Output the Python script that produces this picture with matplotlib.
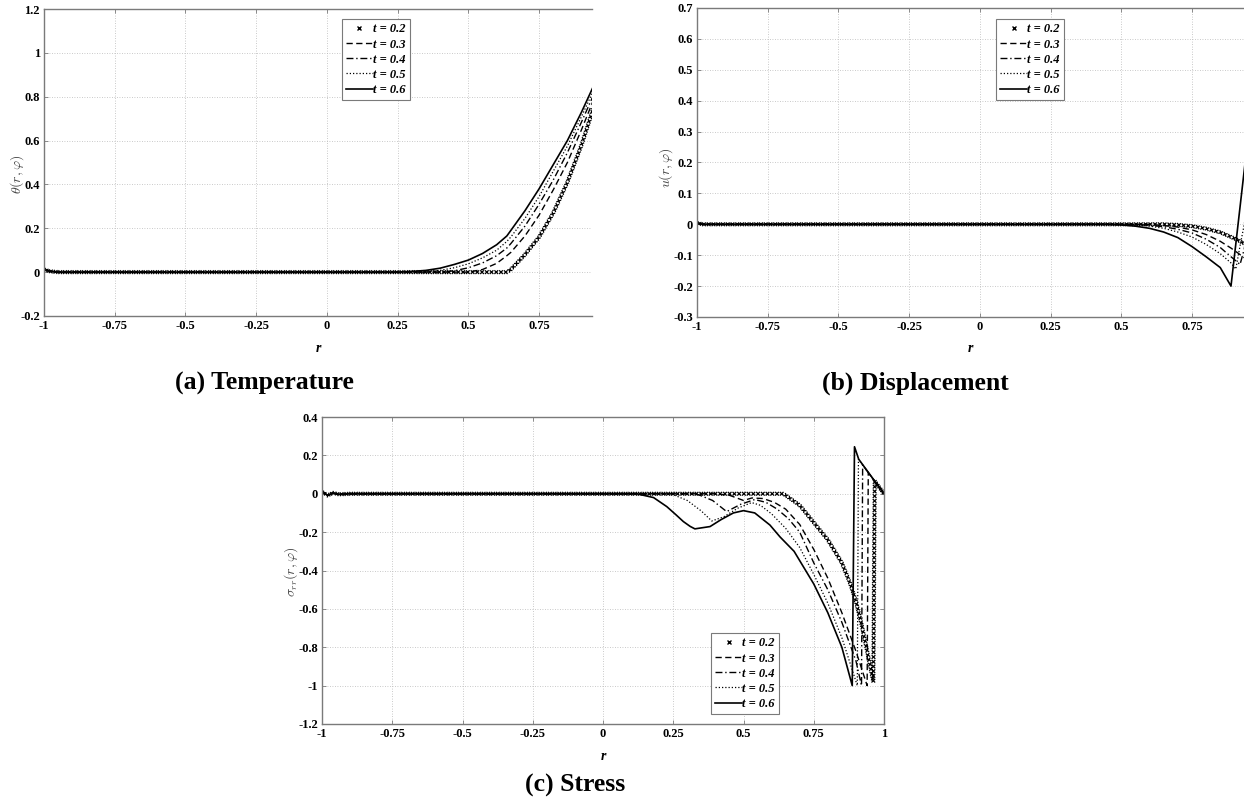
import numpy as np
import matplotlib
matplotlib.use("Agg")
import matplotlib.pyplot as plt
from matplotlib import patheffects as pe
from matplotlib.lines import Line2D

plt.rcParams['font.family'] = ['Liberation Serif', 'DejaVu Serif']
plt.rcParams['mathtext.fontset'] = 'cm'

# ---------------- data ----------------
labels = ['t = 0.2', 't = 0.3', 't = 0.4', 't = 0.5', 't = 0.6']

# (a) Temperature
r_temp = [-1.0, -0.98, -0.95, 0.2, 0.25, 0.3, 0.35, 0.4, 0.45, 0.5, 0.55, 0.6, 0.636, 0.65,
          0.7, 0.75, 0.8, 0.85, 0.9, 0.95]
temp_t02 = [0.012, 0.004, 0, 0, 0, 0, 0, 0, 0, 0, 0, 0, 0, 0.012, 0.08, 0.16, 0.27, 0.41, 0.58, 0.78]
temp_t03 = [0.012, 0.004, 0, 0, 0, 0, 0, 0, 0, 0, 0.012, 0.04, 0.075, 0.09, 0.165, 0.26, 0.375, 0.5, 0.65, 0.81]
temp_t04 = [0.012, 0.004, 0, 0, 0, 0, 0, 0, 0.006, 0.02, 0.042, 0.075, 0.11, 0.13, 0.21, 0.31, 0.42, 0.545, 0.685, 0.83]
temp_t05 = [0.012, 0.004, 0, 0, 0, 0, 0.002, 0.008, 0.02, 0.038, 0.065, 0.10, 0.14, 0.16, 0.245, 0.345, 0.46, 0.575, 0.71, 0.85]
temp_t06 = [0.012, 0.004, 0, 0, 0, 0.003, 0.008, 0.018, 0.035, 0.055, 0.085, 0.125, 0.165, 0.19, 0.28, 0.38, 0.49, 0.60, 0.73, 0.87]

# (b) Displacement
r_disp = [-1.0, -0.98, 0.4, 0.45, 0.5, 0.55, 0.6, 0.65, 0.7, 0.75, 0.8, 0.85, 0.888, 0.905, 0.92, 0.935, 0.95]
disp_t02 = [0.004, 0, 0, 0, 0, 0, 0, 0, -0.002, -0.006, -0.014, -0.026, -0.041, -0.048, -0.055, -0.062, -0.07]
disp_t03 = [0.004, 0, 0, 0, 0, 0, 0, -0.004, -0.009, -0.018, -0.033, -0.055, -0.077, -0.088, -0.098, -0.108, -0.12]
disp_t04 = [0.004, 0, 0, 0, 0, 0, -0.003, -0.008, -0.016, -0.028, -0.048, -0.075, -0.105, -0.118, -0.13, -0.08, 0.02]
disp_t05 = [0.004, 0, 0, 0, 0, -0.002, -0.006, -0.013, -0.025, -0.041, -0.065, -0.095, -0.125, -0.145, -0.07, 0.0, 0.1]
disp_t06 = [0.004, 0, 0, 0, -0.002, -0.006, -0.013, -0.025, -0.043, -0.072, -0.105, -0.14, -0.2, -0.064, 0.056, 0.176, 0.3]

# (c) Stress
r_s02 = [-1.0, -0.98, -0.96, -0.94, -0.9, 0.642, 0.7, 0.75, 0.8, 0.85, 0.88, 0.9, 0.92, 0.94, 0.962, 0.967, 1.0]
s_t02 = [0.01, -0.008, 0.004, -0.003, 0, 0, -0.06, -0.15, -0.24, -0.36, -0.47, -0.56, -0.68, -0.82, -0.98, 0.066, 0.0]
r_s03 = [-1.0, -0.98, -0.96, -0.94, -0.9, 0.4, 0.45, 0.5, 0.53, 0.57, 0.61, 0.65, 0.7, 0.75, 0.8, 0.85, 0.9, 0.94, 0.944, 1.0]
s_t03 = [0.01, -0.008, 0.004, -0.003, 0, 0, -0.008, -0.035, -0.022, -0.025, -0.045, -0.08, -0.16, -0.29, -0.44, -0.62, -0.82, -1.0, 0.11, 0.0]
r_s04 = [-1.0, -0.98, -0.96, -0.94, -0.9, 0.3, 0.34, 0.39, 0.44, 0.49, 0.54, 0.58, 0.62, 0.66, 0.7, 0.75, 0.8, 0.85, 0.9, 0.92, 0.924, 1.0]
s_t04 = [0.01, -0.008, 0.004, -0.003, 0, 0, -0.005, -0.035, -0.093, -0.055, -0.03, -0.045, -0.08, -0.13, -0.2, -0.36, -0.5, -0.67, -0.87, -1.0, 0.15, 0.0]
r_s05 = [-1.0, -0.98, -0.96, -0.94, -0.9, 0.2, 0.25, 0.3, 0.35, 0.387, 0.43, 0.48, 0.529, 0.56, 0.6, 0.65, 0.7, 0.75, 0.8, 0.85, 0.905, 0.909, 1.0]
s_t05 = [0.01, -0.008, 0.004, -0.003, 0, 0, -0.005, -0.035, -0.09, -0.142, -0.12, -0.075, -0.046, -0.06, -0.105, -0.18, -0.28, -0.42, -0.57, -0.75, -1.0, 0.18, 0.0]
r_s06 = [-1.0, -0.98, -0.96, -0.94, -0.9, 0.12, 0.18, 0.227, 0.26, 0.286, 0.31, 0.327, 0.381, 0.42, 0.464, 0.5,
         0.54, 0.594, 0.63, 0.68, 0.75, 0.8, 0.85, 0.887, 0.895, 0.91, 1.0]
s_t06 = [0.01, -0.008, 0.004, -0.003, 0, 0, -0.02, -0.067, -0.11, -0.145, -0.17, -0.183, -0.171, -0.135, -0.1, -0.088,
         -0.1, -0.163, -0.225, -0.30, -0.47, -0.62, -0.80, -1.0, 0.245, 0.18, 0.0]

xt_ab = [-1, -0.75, -0.5, -0.25, 0, 0.25, 0.5, 0.75]
xl_ab = ['-1', '-0.75', '-0.5', '-0.25', '0', '0.25', '0.5', '0.75']
xt_c = [-1, -0.75, -0.5, -0.25, 0, 0.25, 0.5, 0.75, 1]
xl_c = ['-1', '-0.75', '-0.5', '-0.25', '0', '0.25', '0.5', '0.75', '1']
yt_a = [-0.2, 0, 0.2, 0.4, 0.6, 0.8, 1.0, 1.2]
yl_a = ['-0.2', '0', '0.2', '0.4', '0.6', '0.8', '1', '1.2']
yt_b = [-0.3, -0.2, -0.1, 0, 0.1, 0.2, 0.3, 0.4, 0.5, 0.6, 0.7]
yl_b = ['-0.3', '-0.2', '-0.1', '0', '0.1', '0.2', '0.3', '0.4', '0.5', '0.6', '0.7']
yt_c = [-1.2, -1.0, -0.8, -0.6, -0.4, -0.2, 0, 0.2, 0.4]
yl_c = ['-1.2', '-1', '-0.8', '-0.6', '-0.4', '-0.2', '0', '0.2', '0.4']

# ---------------- figure ----------------
W, H = 1244, 799
fig = plt.figure(figsize=(W / 100, H / 100), dpi=100)


def add_ax(l, t, r, b):
    return fig.add_axes([l / W, 1 - b / H, (r - l) / W, (b - t) / H])


GRAY = '#7a7a7a'


def xstroke():
    return [pe.TickedStroke(spacing=3.4, angle=a, length=0.42, linewidth=0.9, foreground='black')
            for a in (45, 135, -45, -135)]


styles = [
    dict(color='black', lw=0.9),                            # markers only (path effect)
    dict(color='black', lw=1.0, ls=(0, (4.5, 2.5))),
    dict(color='black', lw=1.0, ls=(0, (5, 2, 1, 2))),
    dict(color='black', lw=0.9, ls=(0, (1, 1.6))),
    dict(color='black', lw=1.2, ls='-'),
]


def draw(ax, xs, ys):
    for i, (x, y) in enumerate(zip(xs, ys)):
        ln, = ax.plot(x, y, **styles[i])
        if i == 0:
            ln.set_path_effects(xstroke())


def style_ax(ax, xt, xl, yt, yl, xlim, ylim, right=True):
    ax.set_xlim(*xlim)
    ax.set_ylim(*ylim)
    ax.set_xticks(xt)
    ax.set_xticklabels(xl)
    ax.set_yticks(yt)
    ax.set_yticklabels(yl)
    ax.set_axisbelow(True)
    ax.grid(True, color='#b8b8b8', ls=(0, (1, 2)), lw=0.6)
    ax.tick_params(direction='in', length=3, width=0.6, color=GRAY, labelsize=9,
                   top=True, right=right, pad=3)
    for lab in ax.get_xticklabels() + ax.get_yticklabels():
        lab.set_fontweight('bold')
    for s in ax.spines.values():
        s.set_color(GRAY)
        s.set_linewidth(1.0)
    if not right:
        ax.spines['right'].set_visible(False)


def legend(ax, x0, y0):
    handles = [Line2D([], [], color='black', ls='none', marker='x', ms=2.5, mew=1.0)]
    for st in styles[1:]:
        handles.append(Line2D([], [], **st))
    leg = ax.legend(handles, labels, loc='upper left',
                    bbox_to_anchor=(x0 / W, 1 - y0 / H), bbox_transform=fig.transFigure,
                    prop=dict(family='Liberation Serif', weight='bold', style='italic', size=9),
                    handlelength=2.1, handletextpad=0.05, labelspacing=0.25, borderpad=0.35,
                    borderaxespad=0, fancybox=False, framealpha=1, numpoints=1)
    leg.get_frame().set_edgecolor(GRAY)
    leg.get_frame().set_linewidth(0.8)


# (a)
axA = add_ax(44, 9, 592, 316)
draw(axA, [r_temp] * 5, [temp_t02, temp_t03, temp_t04, temp_t05, temp_t06])
style_ax(axA, xt_ab, xl_ab, yt_a, yl_a, (-1, 0.937), (-0.2, 1.2), right=False)
legend(axA, 342, 19)

# (b)
axB = add_ax(697, 8, 1244, 317)
draw(axB, [r_disp] * 5, [disp_t02, disp_t03, disp_t04, disp_t05, disp_t06])
style_ax(axB, xt_ab, xl_ab, yt_b, yl_b, (-1, 0.934), (-0.3, 0.7), right=False)
legend(axB, 996, 19)

# (c)
axC = add_ax(322, 417, 884, 724)
draw(axC, [r_s02, r_s03, r_s04, r_s05, r_s06], [s_t02, s_t03, s_t04, s_t05, s_t06])
style_ax(axC, xt_c, xl_c, yt_c, yl_c, (-1, 1), (-1.2, 0.4))
legend(axC, 711, 633)


def ftext(x, y, s, **kw):
    fig.text(x / W, 1 - y / H, s, **kw)


# axis labels
ftext(318, 349, 'r', ha='center', va='center', fontsize=10, fontweight='bold', style='italic')
ftext(970, 349, 'r', ha='center', va='center', fontsize=10, fontweight='bold', style='italic')
ftext(603, 757, 'r', ha='center', va='center', fontsize=10, fontweight='bold', style='italic')
ftext(17, 174, r'$\theta(r,\varphi)$', ha='center', va='center', rotation=90, fontsize=10, color='#444444')
ftext(666, 168, r'$u(r,\varphi)$', ha='center', va='center', rotation=90, fontsize=10, color='#444444')
ftext(291, 572, r'$\sigma_{rr}(r,\varphi)$', ha='center', va='center', rotation=90, fontsize=10, color='#444444')

# captions
ftext(264, 383, '(a) Temperature', ha='center', va='center', fontsize=18.5, fontweight='bold')
ftext(915, 383, '(b) Displacement', ha='center', va='center', fontsize=18.5, fontweight='bold')
ftext(575, 785, '(c) Stress', ha='center', va='center', fontsize=18.5, fontweight='bold')

fig.savefig('out.png', dpi=100)
